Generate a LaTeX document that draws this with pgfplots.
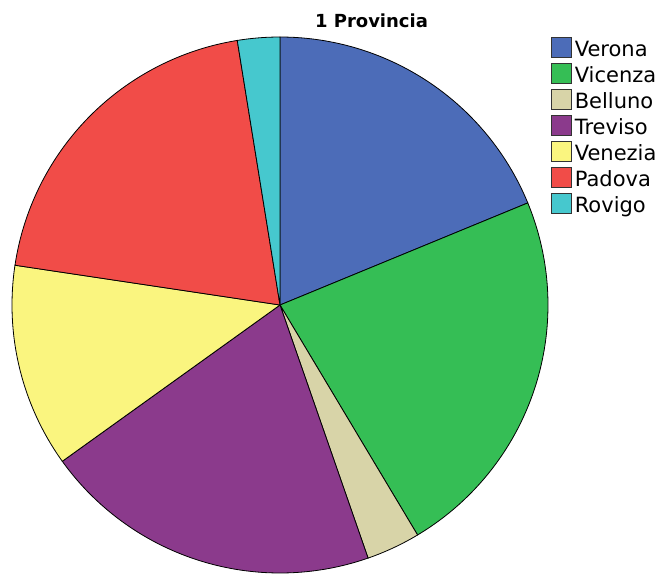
\documentclass[border=0pt]{standalone}
\usepackage{pgfplots}
\pgfplotsset{compat=1.18}
\usepackage{pgfplotstable}
\usepackage{fontspec}
\setmainfont{DejaVu Sans}

\definecolor{cVerona}{RGB}{76,108,184}
\definecolor{cVicenza}{RGB}{53,190,85}
\definecolor{cBelluno}{RGB}{216,212,168}
\definecolor{cTreviso}{RGB}{139,58,140}
\definecolor{cVenezia}{RGB}{250,245,127}
\definecolor{cPadova}{RGB}{241,76,72}
\definecolor{cRovigo}{RGB}{70,200,206}

\pgfplotstableread{
name value col
Verona 18.78 cVerona
Vicenza 22.64 cVicenza
Belluno 3.25 cBelluno
Treviso 20.42 cTreviso
Venezia 12.28 cVenezia
Padova 20.08 cPadova
Rovigo 2.55 cRovigo
}\piedata

\begin{document}
\begin{tikzpicture}
\useasboundingbox (0pt,0pt) rectangle (659pt,574pt);
\begin{axis}[
  at={(12pt,1pt)}, anchor=south west,
  width=536pt, height=536pt, scale only axis,
  xmin=-1, xmax=1, ymin=-1, ymax=1,
  hide axis, clip=false,
  legend style={draw=none, fill=none, at={(1.0056,1.0004)}, anchor=north west,
    font=\fontsize{21}{24}\selectfont, row sep=1.7pt, column sep=3pt, inner sep=0pt,
    nodes={inner sep=0pt, text height=15.5pt, text depth=4.5pt}},
  legend cell align=left,
  legend image code/.code={\draw[#1, draw=black!80, line width=0.6pt] (0pt,-6pt) rectangle (20pt,14pt);},
]
\def\cum{0}
\pgfplotsforeachungrouped \i in {0,...,6}{%
  \pgfplotstablegetelem{\i}{value}\of\piedata
  \pgfmathsetmacro\angA{90-3.6*\cum}%
  \pgfmathsetmacro\cum{\cum+\pgfplotsretval}%
  \pgfmathsetmacro\angB{90-3.6*\cum}%
  \pgfplotstablegetelem{\i}{col}\of\piedata
  \let\slicecol\pgfplotsretval
  \pgfplotstablegetelem{\i}{name}\of\piedata
  \let\slicename\pgfplotsretval
  \edef\doslice{\noexpand\addplot[fill=\slicecol, draw=black, line width=0.8pt, domain=\angB:\angA, samples=90] ({cos(x)},{sin(x)}) -- (axis cs:0,0) -- cycle; \noexpand\addlegendentry{\slicename}}%
  \doslice
}
\end{axis}
\node[font=\bfseries\fontsize{18}{20}\selectfont] at (371.5pt,553.5pt) {1 Provincia};
\end{tikzpicture}
\end{document}
